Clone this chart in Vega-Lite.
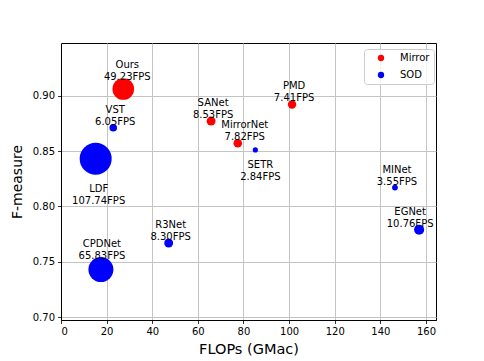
{
  "$schema": "https://vega.github.io/schema/vega-lite/v6.json",
  "width": 375,
  "height": 277,
  "autosize": {"type": "none"},
  "padding": {"left": 61, "top": 43, "right": 48, "bottom": 41},
  "background": "white",
  "config": {
    "font": "DejaVu Sans",
    "view": {"stroke": "black", "strokeWidth": 1},
    "axis": {
      "grid": true,
      "gridColor": "#c4c4c4",
      "gridWidth": 1,
      "domainColor": "black",
      "domainWidth": 1,
      "tickColor": "black",
      "tickSize": 3.5,
      "tickWidth": 0.8,
      "labelFont": "DejaVu Sans",
      "labelFontSize": 10,
      "labelColor": "black",
      "labelPadding": 3,
      "titleFont": "DejaVu Sans",
      "titleFontSize": 14,
      "titleFontWeight": "normal",
      "titleColor": "black"
    }
  },
  "data": {
    "values": [
      {"name": "Ours", "label": "Ours\n49.23FPS", "flops": 27.3, "fmeasure": 0.906, "fps": 49.23, "type": "Mirror"},
      {"name": "VST", "label": "VST\n6.05FPS", "flops": 22.9, "fmeasure": 0.871, "fps": 6.05, "type": "SOD"},
      {"name": "LDF", "label": "LDF\n107.74FPS", "flops": 15.2, "fmeasure": 0.843, "fps": 107.74, "type": "SOD"},
      {"name": "SANet", "label": "SANet\n8.53FPS", "flops": 65.8, "fmeasure": 0.877, "fps": 8.53, "type": "Mirror"},
      {"name": "MirrorNet", "label": "MirrorNet\n7.82FPS", "flops": 77.5, "fmeasure": 0.857, "fps": 7.82, "type": "Mirror"},
      {"name": "SETR", "label": "SETR\n2.84FPS", "flops": 85.2, "fmeasure": 0.851, "fps": 2.84, "type": "SOD"},
      {"name": "PMD", "label": "PMD\n7.41FPS", "flops": 101.3, "fmeasure": 0.892, "fps": 7.41, "type": "Mirror"},
      {"name": "MINet", "label": "MINet\n3.55FPS", "flops": 146.4, "fmeasure": 0.817, "fps": 3.55, "type": "SOD"},
      {"name": "EGNet", "label": "EGNet\n10.76FPS", "flops": 157.0, "fmeasure": 0.779, "fps": 10.76, "type": "SOD"},
      {"name": "R3Net", "label": "R3Net\n8.30FPS", "flops": 47.2, "fmeasure": 0.767, "fps": 8.30, "type": "SOD"},
      {"name": "CPDNet", "label": "CPDNet\n65.83FPS", "flops": 17.5, "fmeasure": 0.743, "fps": 65.83, "type": "SOD"}
    ]
  },
  "encoding": {
    "x": {
      "field": "flops", "type": "quantitative",
      "scale": {"domain": [0, 164.4], "nice": false, "zero": false},
      "axis": {"values": [0, 20, 40, 60, 80, 100, 120, 140, 160], "title": "FLOPs (GMac)", "titlePadding": 6, "titleFontSize": 14.5}
    },
    "y": {
      "field": "fmeasure", "type": "quantitative",
      "scale": {"domain": [0.6975, 0.9475], "nice": false, "zero": false},
      "axis": {"values": [0.7, 0.75, 0.8, 0.85, 0.9], "format": ".2f", "title": "F-measure", "titlePadding": 8}
    }
  },
  "layer": [
    {
      "mark": {"type": "point", "filled": true, "opacity": 1, "shape": "circle"},
      "encoding": {
        "color": {
          "field": "type", "type": "nominal",
          "scale": {"domain": ["Mirror", "SOD"], "range": ["#ff0000", "#0000ff"]},
          "legend": {
            "title": null,
            "orient": "none",
            "legendX": 303,
            "legendY": 6,
            "padding": 4,
            "symbolOffset": 8,
            "symbolSize": 40,
            "symbolType": "circle",
            "labelOffset": 14,
            "labelFontSize": 10,
            "labelFont": "DejaVu Sans",
            "labelColor": "black",
            "rowPadding": 7,
            "fillColor": "rgba(255,255,255,0.8)",
            "strokeColor": "#cccccc",
            "cornerRadius": 3
          }
        },
        "size": {
          "field": "fps", "type": "quantitative",
          "scale": {"domain": [0, 100], "range": [0, 950], "zero": true},
          "legend": null
        }
      }
    },
    {
      "transform": [{"filter": {"field": "name", "oneOf": ["VST", "SANet", "PMD", "R3Net", "MINet"]}}],
      "mark": {"type": "text", "lineBreak": "\n", "align": "center", "baseline": "middle", "fontSize": 10, "lineHeight": 12, "dy": -18, "dx": 2, "color": "black"},
      "encoding": {"text": {"field": "label"}}
    },
    {
      "transform": [{"filter": {"field": "name", "equal": "MirrorNet"}}],
      "mark": {"type": "text", "lineBreak": "\n", "align": "center", "baseline": "middle", "fontSize": 10, "lineHeight": 12, "dy": -18, "dx": 7, "color": "black"},
      "encoding": {"text": {"field": "label"}}
    },
    {
      "transform": [{"filter": {"field": "name", "equal": "EGNet"}}],
      "mark": {"type": "text", "lineBreak": "\n", "align": "center", "baseline": "middle", "fontSize": 10, "lineHeight": 12, "dy": -18, "dx": -9, "color": "black"},
      "encoding": {"text": {"field": "label"}}
    },
    {
      "transform": [{"filter": {"field": "name", "equal": "Ours"}}],
      "mark": {"type": "text", "lineBreak": "\n", "align": "center", "baseline": "middle", "fontSize": 10, "lineHeight": 12, "dy": -24, "dx": 4, "color": "black"},
      "encoding": {"text": {"field": "label"}}
    },
    {
      "transform": [{"filter": {"field": "name", "equal": "CPDNet"}}],
      "mark": {"type": "text", "lineBreak": "\n", "align": "center", "baseline": "middle", "fontSize": 10, "lineHeight": 12, "dy": -26, "dx": 1, "color": "black"},
      "encoding": {"text": {"field": "label"}}
    },
    {
      "transform": [{"filter": {"field": "name", "equal": "SETR"}}],
      "mark": {"type": "text", "lineBreak": "\n", "align": "center", "baseline": "middle", "fontSize": 10, "lineHeight": 12, "dy": 15, "dx": 5, "color": "black"},
      "encoding": {"text": {"field": "label"}}
    },
    {
      "transform": [{"filter": {"field": "name", "equal": "LDF"}}],
      "mark": {"type": "text", "lineBreak": "\n", "align": "center", "baseline": "middle", "fontSize": 10, "lineHeight": 12, "dy": 30, "dx": 3, "color": "black"},
      "encoding": {"text": {"field": "label"}}
    }
  ]
}
